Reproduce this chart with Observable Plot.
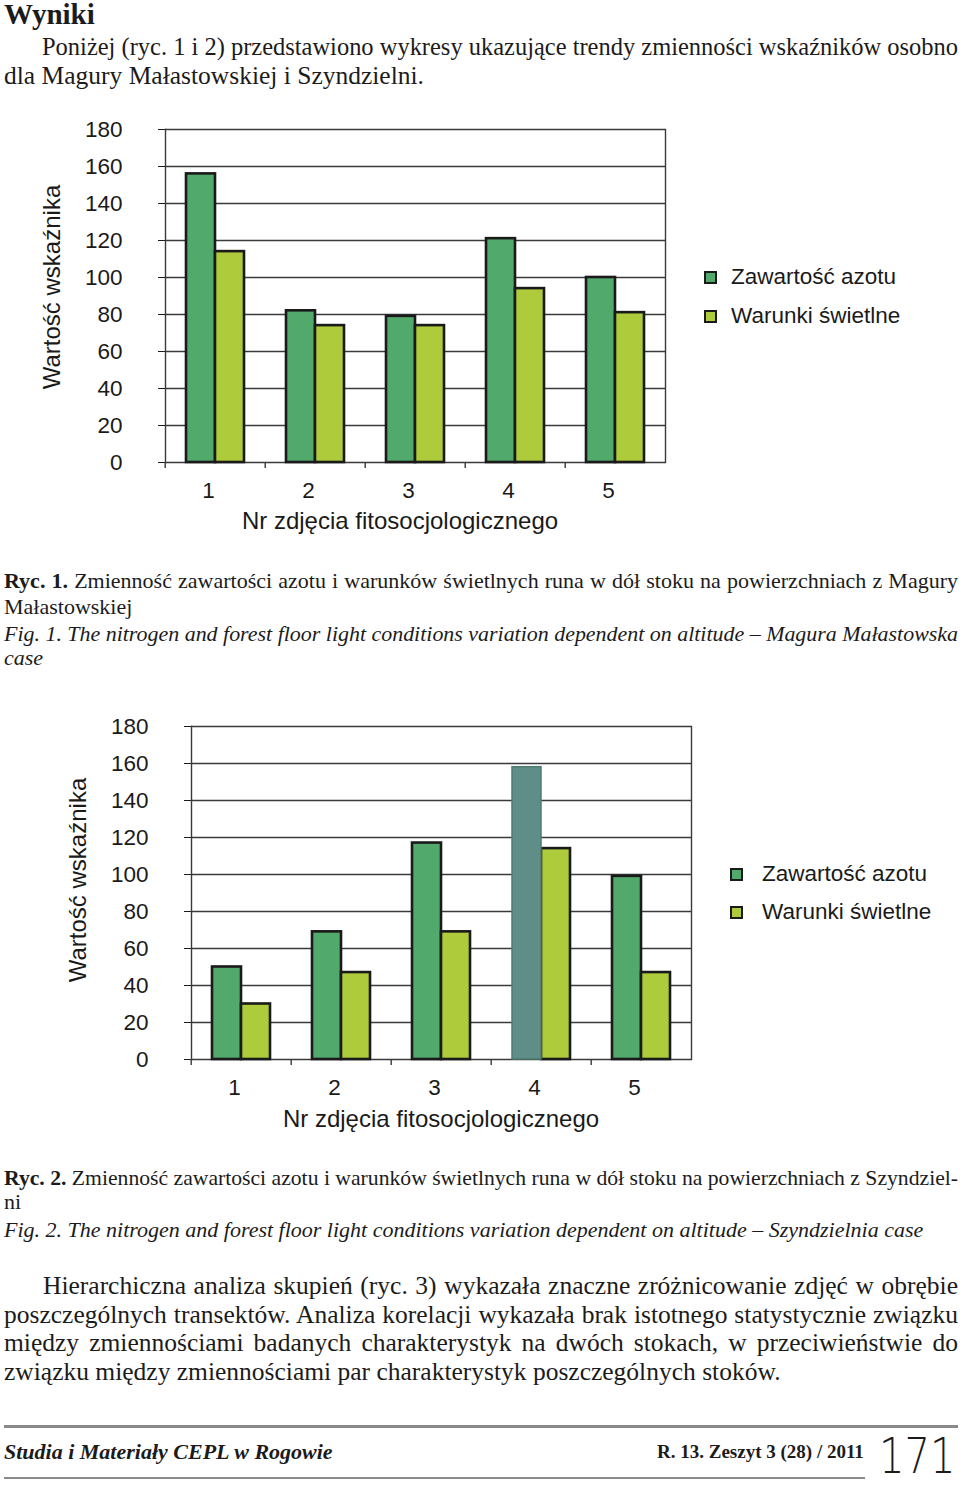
<!DOCTYPE html>
<html>
<head>
<meta charset="utf-8">
<script src="https://cdn.jsdelivr.net/npm/d3@7"></script>
<script src="https://cdn.jsdelivr.net/npm/@observablehq/plot@0.6"></script>
<style>
html, body { margin: 0; padding: 0; background: #fff; }
body { width: 960px; height: 1485px; position: relative; overflow: hidden;
  font-family: "Liberation Serif", "Times New Roman", serif; color: #1b1b1b; }
.t { position: absolute; white-space: nowrap; line-height: 1; }
.j { position: absolute; line-height: 1; white-space: nowrap; transform-origin: left top; }
.body { font-size: 25.5px; }
.cap { font-size: 22px; }
.it { font-style: italic; }
.chart { position: absolute; }
.sans { font-family: "Liberation Sans", Arial, sans-serif; color: #1a1a1a; }
.leg { position: absolute; font-size: 22.5px; line-height: 1; white-space: nowrap; }
.ttl { position: absolute; font-size: 24px; line-height: 1; white-space: nowrap; }
.sw { position: absolute; width: 9px; height: 9px; border: 2px solid #1a1a1a; }
.rule { position: absolute; background: #8a8a8a; }
</style>
</head>
<body>
<div class="t" style="left:4px;top:0px;font-size:29px;font-weight:bold;">Wyniki</div>
<div class="j body" data-w="916" style="left:42px;top:34px;">Poniżej (ryc. 1 i 2) przedstawiono wykresy ukazujące trendy zmienności wskaźników osobno</div>
<div class="t body" style="left:4px;top:63px;">dla Magury Małastowskiej i Szyndzielni.</div>

<div id="chart1" class="chart" style="left:0px;top:110px;"></div>
<div id="extras1"></div>

<div class="j cap" data-w="954" style="left:4px;top:570px;"><b>Ryc. 1.</b> Zmienność zawartości azotu i warunków świetlnych runa w dół stoku na powierzchniach z Magury</div>
<div class="t cap" style="left:4px;top:596px;">Małastowskiej</div>
<div class="j cap it" data-w="954" style="left:4px;top:623px;">Fig. 1. The nitrogen and forest floor light conditions variation dependent on altitude – Magura Małastowska</div>
<div class="t cap it" style="left:4px;top:647px;">case</div>

<div id="chart2" class="chart" style="left:26px;top:707px;"></div>
<div id="extras2"></div>

<div class="j cap" data-w="954" style="left:4px;top:1167px;"><b>Ryc. 2.</b> Zmienność zawartości azotu i warunków świetlnych runa w dół stoku na powierzchniach z Szyndziel-</div>
<div class="t cap" style="left:4px;top:1191px;">ni</div>
<div class="t cap it" style="left:4px;top:1219px;">Fig. 2. The nitrogen and forest floor light conditions variation dependent on altitude – Szyndzielnia case</div>

<div class="j body" data-w="915" style="left:43px;top:1273px;">Hierarchiczna analiza skupień (ryc. 3) wykazała znaczne zróżnicowanie zdjęć w obrębie</div>
<div class="j body" data-w="954" style="left:4px;top:1302px;">poszczególnych transektów. Analiza korelacji wykazała brak istotnego statystycznie związku</div>
<div class="j body" data-w="954" style="left:4px;top:1330px;">między zmiennościami badanych charakterystyk na dwóch stokach, w przeciwieństwie do</div>
<div class="t body" style="left:4px;top:1359px;">związku między zmiennościami par charakterystyk poszczególnych stoków.</div>

<div class="rule" style="left:4px;top:1425px;width:954px;height:3px;"></div>
<div class="t" style="left:4px;top:1441px;font-size:22px;font-weight:bold;font-style:italic;">Studia i Materiały CEPL w Rogowie</div>
<div class="t" style="left:657px;top:1442px;font-size:19px;font-weight:bold;">R. 13. Zeszyt 3 (28) / 2011</div>
<div class="t" style="right:5px;top:1436px;font-size:50px;line-height:40px;font-family:'DejaVu Sans','Liberation Sans',sans-serif;font-weight:200;transform:scaleX(0.8);transform-origin:right top;">171</div>
<div class="rule" style="left:4px;top:1477px;width:861px;height:1.5px;"></div>

<script>
// ---- data ----
const photos = ["1", "2", "3", "4", "5"];
const seriesNames = ["Zawartość azotu", "Warunki świetlne"];
const maguraAzot = [156, 82, 79, 121, 100];
const maguraSwiatlo = [114, 74, 74, 94, 81];
const szyndzielniaAzot = [50, 69, 117, 158, 99];
const szyndzielniaSwiatlo = [30, 47, 69, 114, 47];
const szyndzielniaHighlight = "4";
const yTicks = [0, 20, 40, 60, 80, 100, 120, 140, 160, 180];
const xTitle = "Nr zdjęcia fitosocjologicznego";
const yTitle = "Wartość wskaźnika";

const colors = {
  azot: "#52a96c", swiatlo: "#aecb3b", highlight: "#5f8e88", highlightStroke: "#4c7d70",
  stroke: "#1a1a1a", grid: "#3a3a3a"
};

function rows(az, sw, highlightPhoto) {
  return photos.flatMap((p, i) => [
    {photo: p, series: seriesNames[0], value: az[i], hl: p === highlightPhoto},
    {photo: p, series: seriesNames[1], value: sw[i], hl: false}
  ]);
}

const W = 700, H = 425, ML = 163, MR = 34, MT = 19, MB = 73;
const halfBand = (W - ML - MR) / photos.length / 2;

function barChart(data) {
  return Plot.plot({
    width: W,
    height: H,
    marginLeft: ML,
    marginRight: MR,
    marginTop: MT,
    marginBottom: MB,
    style: {fontFamily: '"Liberation Sans", Arial, sans-serif', fontSize: "22.5px", color: "#1a1a1a",
      background: "transparent", overflow: "visible"},
    fx: {domain: photos, padding: 0},
    x: {domain: seriesNames, axis: null, paddingInner: 0, paddingOuter: 0.71},
    y: {domain: [0, 180], ticks: yTicks, tickSize: 7, tickPadding: 36, label: null},
    color: {domain: seriesNames, range: [colors.azot, colors.swiatlo]},
    marks: [
      Plot.axisFx({anchor: "bottom", tickSize: 0, tickPadding: 20, dx: -7, label: null}),
      // category boundary ticks below the baseline
      Plot.axisFx({anchor: "bottom", tickSize: 6, tickFormat: () => "", dx: -halfBand, label: null,
        stroke: colors.grid, strokeWidth: 1.4}),
      Plot.ruleY(yTicks, {stroke: colors.grid, strokeWidth: 1.4}),
      Plot.frame({anchor: "left", facetAnchor: "left", stroke: colors.grid, strokeWidth: 1.4}),
      Plot.frame({anchor: "right", facetAnchor: "right", stroke: colors.grid, strokeWidth: 1.4}),
      Plot.barY(data, {filter: d => !d.hl, fx: "photo", x: "series", y: "value", fill: "series",
        stroke: colors.stroke, strokeWidth: 2.6}),
      Plot.barY(data, {filter: d => d.hl, fx: "photo", x: "series", y: "value",
        fill: colors.highlight, stroke: colors.highlightStroke, strokeWidth: 1.5})
    ]
  });
}

function extras(el, cfg) {
  seriesNames.forEach((name, i) => {
    const sq = document.createElement("div");
    sq.className = "sw";
    sq.style.left = (cfg.squareX - 6.5) + "px";
    sq.style.top = (cfg.rows[i] - 6.5) + "px";
    sq.style.background = i === 0 ? colors.azot : colors.swiatlo;
    el.appendChild(sq);
    const tx = document.createElement("div");
    tx.className = "leg sans";
    tx.style.left = cfg.textX + "px";
    tx.style.top = (cfg.rows[i] - 11) + "px";
    tx.textContent = name;
    el.appendChild(tx);
  });
  const xt = document.createElement("div");
  xt.className = "ttl sans";
  xt.textContent = xTitle;
  xt.style.left = cfg.xTitle[0] + "px";
  xt.style.top = cfg.xTitle[1] + "px";
  xt.style.transform = "translate(-50%, -50%)";
  el.appendChild(xt);
  const yt = document.createElement("div");
  yt.className = "ttl sans";
  yt.textContent = yTitle;
  yt.style.left = cfg.yTitle[0] + "px";
  yt.style.top = cfg.yTitle[1] + "px";
  yt.style.transform = "translate(-50%, -50%) rotate(-90deg)";
  el.appendChild(yt);
}

// justify single lines: stretch word spacing, or compress horizontally if too long
function justifyLines() {
  document.querySelectorAll(".j").forEach(el => {
    const target = +el.dataset.w;
    const natural = el.getBoundingClientRect().width;
    const spaces = (el.textContent.match(/ /g) || []).length;
    if (natural <= target) {
      el.style.wordSpacing = ((target - natural) / spaces) + "px";
    } else {
      el.style.transform = "scaleX(" + (target / natural) + ")";
    }
  });
}

document.getElementById("chart1").appendChild(barChart(rows(maguraAzot, maguraSwiatlo, null)));
document.getElementById("chart2").appendChild(barChart(rows(szyndzielniaAzot, szyndzielniaSwiatlo, szyndzielniaHighlight)));
extras(document.getElementById("extras1"), {squareX: 710, textX: 731, rows: [277, 316], xTitle: [400, 521], yTitle: [52, 287]});
extras(document.getElementById("extras2"), {squareX: 736, textX: 762, rows: [874, 912], xTitle: [441, 1119], yTitle: [78, 880]});
justifyLines();
</script>
</body>
</html>
